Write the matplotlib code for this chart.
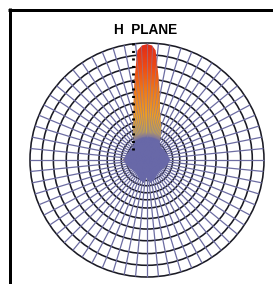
import numpy as np
import matplotlib
matplotlib.use("Agg")
import matplotlib.pyplot as plt
from matplotlib.colors import LinearSegmentedColormap
from matplotlib.patches import Polygon, Circle
from matplotlib.collections import LineCollection
from matplotlib.lines import Line2D

# ---- data ----
title = "H  PLANE"
# grid ring levels (normalised radius, 1 = outer ring)
ring_levels = [1.0, 0.90, 0.80, 0.69, 0.59, 0.50, 0.41, 0.34, 0.28, 0.22,
               0.175, 0.135, 0.10]
n_spokes = 64
n_lobe_stripes = 128
spoke_inner = 0.09
# radiation pattern (angle from north, clockwise, degrees) and normalised level
pattern_angle_deg = [-180, -172, -160, -150, -135, -120, -105, -90, -75, -60,
                     -45, -35, -30, -24, -16, -12, -9, -5, -2.5, 0,
                     2.5, 4.5, 8.5, 12, 15.5, 24, 30, 35, 45, 60,
                     75, 90, 105, 120, 135, 150, 160, 172]
pattern_level = [0.15, 0.20, 0.18, 0.16, 0.145, 0.155, 0.175, 0.21, 0.18, 0.17,
                 0.16, 0.19, 0.23, 0.30, 0.42, 0.55, 0.69, 0.94, 0.98, 0.99,
                 0.98, 0.94, 0.69, 0.53, 0.42, 0.30, 0.235, 0.19, 0.16, 0.17,
                 0.18, 0.20, 0.175, 0.155, 0.145, 0.16, 0.18, 0.20]
beam_marker_x = -0.12
beam_marker_y = [0.085, 1.0]

# ---- figure ----
W, H, DPI = 273, 284, 100
fig = plt.figure(figsize=(W / DPI, H / DPI), dpi=DPI)
fig.patch.set_facecolor("white")
ax = fig.add_axes([0, 0, 1, 1])
CX, CY, R = 147, 160, 117

# rings
for r in ring_levels:
    ax.add_patch(Circle((0, 0), r, fill=False, ec="#1a1a24", lw=1.15, zorder=1))


def spoke_segments(n, r0, r1):
    a = np.radians(np.arange(n) * 360.0 / n)
    return [[(r0 * np.sin(t), r0 * np.cos(t)), (r1 * np.sin(t), r1 * np.cos(t))]
            for t in a]


# spokes (under the pattern)
ax.add_collection(LineCollection(spoke_segments(n_spokes, spoke_inner, 1.0),
                                 colors="#6c6ca2", lw=0.9, zorder=1.5))

# pattern
th = np.radians(pattern_angle_deg)
rr = np.array(pattern_level)
poly = Polygon(np.column_stack([rr * np.sin(th), rr * np.cos(th)]), closed=True,
               fc="none", ec="none", zorder=2)
ax.add_patch(poly)
gx = np.linspace(-1, 1, 500)
GX, GY = np.meshgrid(gx, gx)
G = np.hypot(GX, GY)
cmap = LinearSegmentedColormap.from_list(
    "lobe", [(0, "#6868a8"), (0.19, "#6868a8"), (0.24, "#c8a848"),
             (0.38, "#f0a020"), (0.6, "#f07818"), (0.8, "#ee4a14"),
             (1, "#e02a18")])
im = ax.imshow(G, extent=(-1, 1, -1, 1), origin="lower", cmap=cmap, vmin=0,
               vmax=1, zorder=2, interpolation="bilinear")
im.set_clip_path(poly)

# stripes over the lobe
stripes = LineCollection(spoke_segments(n_lobe_stripes, 0.2, 1.0),
                         colors="#8a7aa0", lw=0.6, alpha=0.7, zorder=3)
ax.add_collection(stripes)
stripes.set_clip_path(poly)

# beam marker
ax.plot([beam_marker_x, beam_marker_x], beam_marker_y, color="black", lw=2.0,
        linestyle=(0, (0.75, 1.95)), zorder=4)

ax.set_aspect("auto")
ax.set_xlim(-CX / R, (W - CX) / R)
ax.set_ylim(-(H - CY) / R, CY / R)
ax.axis("off")

# title
fig.text(146 / W, 1 - 30 / H, title, ha="center", va="center",
         fontsize=9.8, fontweight="bold", family="Liberation Sans")

# frame (top and left edges)
lw_pt = 3 * 72 / DPI
fig.add_artist(Line2D([8 / W, 1], [1 - 9.5 / H, 1 - 9.5 / H], lw=lw_pt,
                      color="black", transform=fig.transFigure,
                      solid_capstyle="butt"))
fig.add_artist(Line2D([9.5 / W, 9.5 / W], [0, 1 - 8 / H], lw=lw_pt,
                      color="black", transform=fig.transFigure,
                      solid_capstyle="butt"))

fig.savefig("out.png", dpi=DPI, facecolor="white")
